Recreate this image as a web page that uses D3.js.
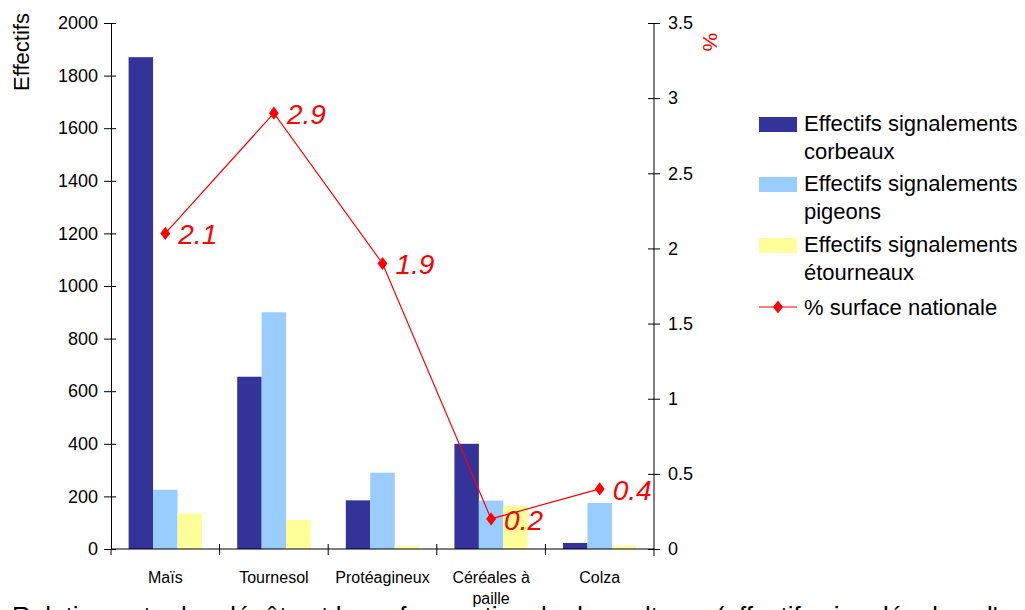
<!DOCTYPE html>
<html>
<head>
<meta charset="utf-8">
<script src="https://cdn.jsdelivr.net/npm/d3@7"></script>
<style>
  body { margin: 0; background: #fff; overflow: hidden; }
  svg { font-family: "Liberation Sans", Arial, sans-serif; display: block; }
  .axis text { font-size: 18px; fill: #000; }
  .axis path, .axis line { stroke: #000; }
</style>
</head>
<body>
<script>
// data
var cultures = ["Maïs", "Tournesol", "Protéagineux", "Céréales à paille", "Colza"];
var corbeaux = [1870, 655, 185, 400, 23];
var pigeons = [225, 900, 290, 184, 175];
var etourneaux = [135, 110, 12, 163, 12];
var surface = [2.1, 2.9, 1.9, 0.2, 0.4];
var leftTicks = [0, 200, 400, 600, 800, 1000, 1200, 1400, 1600, 1800, 2000];
var rightTicks = [0, 0.5, 1, 1.5, 2, 2.5, 3, 3.5];
var seriesNames = ["Effectifs signalements corbeaux", "Effectifs signalements pigeons", "Effectifs signalements étourneaux"];
var seriesColors = ["#333399", "#99ccff", "#ffff99"];

var width = 1025, height = 610;
var pLeft = 111, pRight = 654, pTop = 23, pBottom = 549;

var svg = d3.select('body').append('svg').attr('width', width).attr('height', height);

var x0 = d3.scaleBand().domain(cultures).range([pLeft, pRight]).padding(0);
var x1 = d3.scaleBand().domain([0, 1, 2]).range([0, x0.bandwidth()]).paddingInner(0).paddingOuter(0.72);
var y = d3.scaleLinear().domain([0, 2000]).range([pBottom, pTop]);
var y2 = d3.scaleLinear().domain([0, 3.5]).range([pBottom, pTop]);

// bars
var rows = cultures.map(function (c, i) {
    return {cat: c, vals: [corbeaux[i], pigeons[i], etourneaux[i]]};
});
var groups = svg.append('g').selectAll('g').data(rows).enter().append('g')
    .attr('transform', d => 'translate(' + x0(d.cat) + ',0)');
groups.selectAll('rect').data(d => d.vals).enter().append('rect')
    .attr('x', (d, i) => x1(i))
    .attr('width', x1.bandwidth())
    .attr('y', d => y(d))
    .attr('height', d => pBottom - y(d))
    .attr('fill', (d, i) => seriesColors[i]);

// left axis
var ly = svg.append('g').attr('class', 'axis')
    .attr('transform', 'translate(' + pLeft + ',0)')
    .call(d3.axisLeft(y).tickValues(leftTicks).tickFormat(d3.format('d')).tickSizeInner(7).tickSizeOuter(0).tickPadding(6));
ly.selectAll('.tick line').attr('x2', 5).attr('x1', -7);

// right axis
var ry = svg.append('g').attr('class', 'axis')
    .attr('transform', 'translate(' + pRight + ',0)')
    .call(d3.axisRight(y2).tickValues(rightTicks).tickFormat(d3.format('')).tickSizeInner(6).tickSizeOuter(0).tickPadding(8));
ry.selectAll('.tick line').attr('x1', -6).attr('x2', 6);
ry.select('.domain').attr('d', 'M0,' + pTop + 'V' + (pBottom + 7));

// bottom axis
var bx = svg.append('g').attr('class', 'axis');
bx.append('line').attr('x1', pLeft).attr('x2', pRight).attr('y1', pBottom).attr('y2', pBottom).attr('stroke', '#000');
bx.selectAll('.sep').data(cultures.slice(1)).enter().append('line')
    .attr('x1', d => x0(d)).attr('x2', d => x0(d))
    .attr('y1', pBottom - 5).attr('y2', pBottom + 6).attr('stroke', '#000');
bx.append('line').attr('x1', pLeft).attr('x2', pLeft).attr('y1', pBottom).attr('y2', pBottom + 6).attr('stroke', '#000');

var catLabels = {"Céréales à paille": ["Céréales à", "paille"]};
bx.selectAll('.cat').data(cultures).enter().append('text')
    .attr('text-anchor', 'middle')
    .style('font-size', '16px')
    .attr('y', 583)
    .each(function (d) {
        var lines = catLabels[d] || [d];
        var t = d3.select(this);
        lines.forEach(function (l, k) {
            t.append('tspan').attr('x', x0(d) + x0.bandwidth() / 2).attr('dy', k ? 21 : 0).text(l);
        });
    });

// axis titles
svg.append('text').attr('transform', 'translate(29,52) rotate(-90)')
    .attr('text-anchor', 'middle').attr('font-size', 22).text('Effectifs');
svg.append('text').attr('transform', 'translate(703,42) rotate(90)')
    .attr('text-anchor', 'middle').attr('font-size', 21).attr('fill', '#ff0000').text('%');

// line
var cx = d => x0(d) + x0.bandwidth() / 2;
var pts = cultures.map((c, i) => ({x: cx(c), v: surface[i]}));
svg.append('path').datum(pts)
    .attr('fill', 'none').attr('stroke', '#ff0000').attr('stroke-width', 1.2)
    .attr('d', d3.line().x(d => d.x).y(d => y2(d.v)));
var diamond = d3.symbol().type(d3.symbolDiamond).size(50);
svg.selectAll('.pt').data(pts).enter().append('path')
    .attr('transform', d => 'translate(' + d.x + ',' + y2(d.v) + ') scale(1.3,1)')
    .attr('d', diamond).attr('fill', '#ff0000');
svg.selectAll('.lbl').data(pts).enter().append('text')
    .attr('x', d => d.x + 13).attr('y', d => y2(d.v) + 11)
    .attr('font-size', 28).attr('font-style', 'italic').attr('fill', '#ff0000')
    .text(d => d.v.toFixed(1));

// legend
var leg = svg.append('g').attr('transform', 'translate(759,0)');
var legY = [117, 177, 238];
seriesNames.forEach(function (n, i) {
    leg.append('rect').attr('x', 0).attr('y', legY[i]).attr('width', 38).attr('height', 15).attr('fill', seriesColors[i]);
    var words = n.split(' ');
    var t = leg.append('text').attr('x', 45).attr('y', legY[i] + 14).attr('font-size', 22);
    t.append('tspan').attr('x', 45).text(words[0] + ' ' + words[1]);
    t.append('tspan').attr('x', 45).attr('dy', 28).text(words[2]);
});
leg.append('line').attr('x1', 0).attr('x2', 38).attr('y1', 307).attr('y2', 307).attr('stroke', '#ff0000').attr('stroke-width', 1.2);
leg.append('path').attr('transform', 'translate(19,307) scale(1.3,1)').attr('d', diamond).attr('fill', '#ff0000');
leg.append('text').attr('x', 45).attr('y', 315).attr('font-size', 22).text('% surface nationale');

// caption cut by the bottom edge
svg.append('text').attr('x', 12).attr('y', 625).attr('font-size', 26)
    .text("Relation entre les dégâts et la surface nationale des cultures (effectifs signalés dans l'enquête)");
</script>
</body>
</html>
